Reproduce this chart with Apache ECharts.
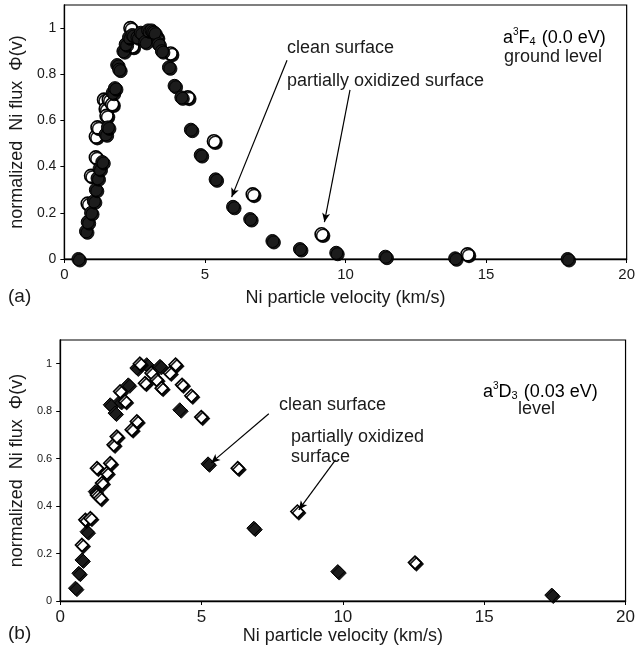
<!DOCTYPE html>
<html><head><meta charset="utf-8">
<script src="https://cdn.jsdelivr.net/npm/echarts@6/dist/echarts.min.js"></script>
<style>html,body{margin:0;padding:0;background:#fff}#c{width:638px;height:656px}</style>
</head><body><div id="c"></div>
<script>
// Panel (a): a3F4 ground level, [velocity km/s, normalized flux]
const topClean = [[0.5,0],[0.77,0.12],[0.83,0.16],[0.95,0.2],[1.05,0.25],[1.12,0.3],[1.18,0.35],[1.25,0.39],[1.35,0.42],[1.47,0.54],[1.55,0.57],[1.72,0.72],[1.8,0.74],[1.88,0.84],[1.95,0.82],[2.1,0.9],[2.18,0.93],[2.3,0.96],[2.42,0.97],[2.6,0.96],[2.72,0.98],[2.88,0.94],[2.98,0.99],[3.1,0.99],[3.2,0.98],[3.35,0.93],[3.47,0.9],[3.72,0.83],[3.92,0.75],[4.16,0.7],[4.5,0.56],[4.85,0.45],[5.38,0.345],[6.0,0.226],[6.61,0.173],[7.4,0.078],[8.38,0.043],[9.67,0.027],[11.42,0.01],[13.9,0.003],[17.9,0]];
const topOxid = [[0.83,0.24],[0.95,0.36],[1.12,0.44],[1.12,0.53],[1.18,0.57],[1.41,0.69],[1.47,0.65],[1.5,0.62],[1.58,0.69],[1.7,0.67],[2.35,1.0],[2.42,0.92],[3.0,0.97],[3.28,0.96],[3.78,0.89],[4.39,0.7],[5.32,0.51],[6.7,0.28],[9.15,0.107],[14.34,0.02]];
// Panel (b): a3D3 level
const botClean = [[0.54,0.054],[0.66,0.117],[0.77,0.173],[0.95,0.292],[1.24,0.461],[1.77,0.827],[1.94,0.792],[2.12,0.841],[2.41,0.911],[2.71,0.982],[3.06,0.996],[3.53,0.989],[4.23,0.806],[5.23,0.578],[6.85,0.307],[9.82,0.124],[17.39,0.025]];
const botOxid = [[0.77,0.236],[0.89,0.342],[1.07,0.349],[1.3,0.56],[1.3,0.447],[1.42,0.433],[1.48,0.497],[1.65,0.539],[1.77,0.581],[1.89,0.658],[2.0,0.693],[2.12,0.883],[2.3,0.841],[2.53,0.722],[2.71,0.757],[2.82,1.0],[3.0,0.918],[3.23,0.961],[3.41,0.932],[3.59,0.897],[3.88,0.961],[4.08,0.996],[4.31,0.911],[4.64,0.865],[4.99,0.775],[6.28,0.56],[8.39,0.377],[12.55,0.162]];
const xTicks = [0,5,10,15,20];
const yTicks = [0,0.2,0.4,0.6,0.8,1];
const xTitle = 'Ni particle velocity (km/s)';
const yTitle = 'normalized  Ni flux  \u03A6(v)';

const FONT = '"Liberation Sans", Arial, sans-serif';
const TXT = '#1a1a1a';

function xAx(idx, fs, gap){
  return {gridIndex: idx, type:'value', min:0, max:20, interval:5,
    name: xTitle, nameLocation:'middle', nameGap: gap,
    nameTextStyle:{fontFamily:FONT, fontSize:18, color:TXT},
    axisLine:{show:true, onZero:false, lineStyle:{color:'#000', width:1.3}},
    axisTick:{show:true, inside:false, length:4, lineStyle:{color:'#000'}},
    axisLabel:{fontFamily:FONT, fontSize:fs, color:TXT, margin:8,
      formatter: v => xTicks.includes(v) ? String(v) : ''},
    splitLine:{show:false}};
}
function yAx(idx, fs, gap){
  return {gridIndex: idx, type:'value', min:0, max:1.1, interval:0.2,
    name: yTitle, nameLocation:'middle', nameGap: gap, nameRotate:90,
    nameTextStyle:{fontFamily:FONT, fontSize:18, color:TXT},
    axisLine:{show:true, lineStyle:{color:'#000', width:1.3}},
    axisTick:{show:true, inside:false, length:4, lineStyle:{color:'#000'}},
    axisLabel:{fontFamily:FONT, fontSize:fs, color:TXT, margin:8, showMaxLabel:false,
      formatter: v => { const t = yTicks.find(k => Math.abs(k - v) < 1e-6); return t === undefined ? '' : String(t); }},
    splitLine:{show:false}};
}
const filledStyle = {color:'#1c1c1c', opacity:1, borderColor:'#000', borderWidth:1, shadowColor:'rgba(0,0,0,0.9)', shadowOffsetX:1.5, shadowOffsetY:1.5, shadowBlur:0};
const openStyle = {color:'#fff', opacity:1, borderColor:'#000', borderWidth:1.6, shadowColor:'rgba(0,0,0,0.9)', shadowOffsetX:1.5, shadowOffsetY:1.5, shadowBlur:0};
const arrowLine = {color:'#000', width:1.2, type:'solid'};

function arrow(p1, p2){
  return [{coord:p1, symbol:'none'}, {coord:p2, symbol:'arrow', symbolSize:[6,9]}];
}

const richA = {
  n:{fontFamily:FONT, fontSize:18, color:TXT, lineHeight:20, verticalAlign:'bottom'},
  sup:{fontFamily:FONT, fontSize:10, color:TXT, lineHeight:20, verticalAlign:'top'},
  sub:{fontFamily:FONT, fontSize:11, color:TXT, lineHeight:20, verticalAlign:'bottom', padding:[0,1,0,0]}
};

const chart = echarts.init(document.getElementById('c'), null, {renderer:'canvas'});
chart.setOption({
  animation:false,
  backgroundColor:'#fff',
  grid:[
    {left:58, top:5, width:571, height:254, show:true, borderColor:'#000', borderWidth:1.2, backgroundColor:'transparent'},
    {left:57, top:340, width:570, height:261, show:true, borderColor:'#000', borderWidth:1.2, backgroundColor:'transparent'}
  ],
  xAxis:[xAx(0,15,30), xAx(1,17,24)],
  yAxis:[yAx(0,14,36), yAx(1,11,34)],
  series:[
    {type:'scatter', xAxisIndex:0, yAxisIndex:0, data:topOxid, symbol:'circle', symbolSize:13, itemStyle:openStyle, z:2,
      emphasis:{disabled:true},
      markLine:{silent:true, symbol:['none','arrow'], label:{show:false}, lineStyle:arrowLine, animation:false,
        data:[arrow([7.92,0.861],[5.95,0.268]), arrow([10.16,0.732],[9.25,0.16])]}},
    {type:'scatter', xAxisIndex:0, yAxisIndex:0, data:topClean, symbol:'circle', symbolSize:13, itemStyle:filledStyle, z:3, emphasis:{disabled:true}},
    {type:'scatter', xAxisIndex:1, yAxisIndex:1, data:botClean, symbol:'diamond', symbolSize:14, itemStyle:filledStyle, z:2,
      emphasis:{disabled:true},
      markLine:{silent:true, symbol:['none','arrow'], label:{show:false}, lineStyle:arrowLine, animation:false,
        data:[arrow([7.38,0.789],[5.34,0.582]), arrow([9.74,0.595],[8.44,0.384])]}},
    {type:'scatter', xAxisIndex:1, yAxisIndex:1, data:botOxid, symbol:'diamond', symbolSize:13, itemStyle:openStyle, z:3, emphasis:{disabled:true}}
  ],
  graphic:[
    {type:'text', left:287, top:39, style:{text:'clean surface', font:'18px '+FONT, fill:TXT}},
    {type:'text', left:287, top:72, style:{text:'partially oxidized surface', font:'18px '+FONT, fill:TXT}},
    {type:'text', left:503, top:27, style:{text:'{n|a}{sup|3}{n|F}{sub|4}{n| (0.0 eV)}', rich:richA}},
    {type:'text', left:504, top:48, style:{text:'ground level', font:'18px '+FONT, fill:TXT}},
    {type:'text', left:8, top:287, style:{text:'(a)', font:'19px '+FONT, fill:TXT}},
    {type:'text', left:483, top:381, style:{text:'{n|a}{sup|3}{n|D}{sub|3}{n| (0.03 eV)}', rich:richA}},
    {type:'text', left:518, top:400, style:{text:'level', font:'18px '+FONT, fill:TXT}},
    {type:'text', left:279, top:396, style:{text:'clean surface', font:'18px '+FONT, fill:TXT}},
    {type:'text', left:291, top:428, style:{text:'partially oxidized', font:'18px '+FONT, fill:TXT}},
    {type:'text', left:291, top:448, style:{text:'surface', font:'18px '+FONT, fill:TXT}},
    {type:'text', left:8, top:624, style:{text:'(b)', font:'19px '+FONT, fill:TXT}}
  ]
});
</script></body></html>
